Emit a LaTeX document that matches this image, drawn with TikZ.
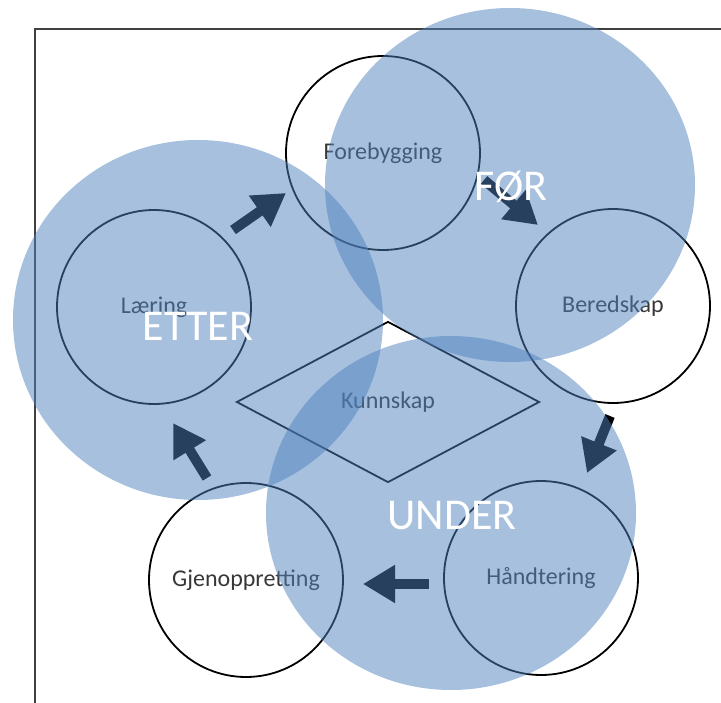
\documentclass[tikz,border=0pt]{standalone}
\usepackage{fontspec}
\setmainfont{Carlito}
\usetikzlibrary{shapes.geometric,arrows.meta}
\definecolor{ovblue}{RGB}{79,129,189}
\definecolor{labgray}{RGB}{55,55,55}
\tikzset{
  stagecirc/.style={circle, draw=black, line width=1.8pt, minimum size=194pt, inner sep=0pt,
    text=labgray, font=\fontsize{24}{24}\selectfont},
  phase/.style={ellipse, fill=ovblue, fill opacity=0.5, inner sep=0pt},
  phaselabel/.style={text=white, font=\fontsize{44}{44}\selectfont},
  flowarrow/.style={draw=black, line width=10pt,
    -{Triangle[width=36pt,length=32pt]}},
}
\begin{document}
\begin{tikzpicture}[x=1pt,y=-1pt]
\useasboundingbox (0,0) rectangle (721,703);
% frame
\draw[line width=2pt, draw=black!75] (35,703) -- (35,29) -- (721,29);
% stages
\node[stagecirc] (fore) at (383,153) {Forebygging};
\node[stagecirc] (bere) at (613,306) {Beredskap};
\node[stagecirc] (laer) at (154,307) {Læring};
\node[stagecirc] (hand) at (541,578) {Håndtering};
\node[stagecirc] (gjen) at (246,580) {Gjenoppretting};
\node[diamond, draw=black, line width=1.8pt, minimum width=303pt, minimum height=161pt,
  inner sep=0pt, text=labgray, font=\fontsize{24}{24}\selectfont] (kunn) at (388,402) {Kunnskap};
% arrows
\coordinate (a1s) at (233,230); \coordinate (a1e) at (286,193);
\coordinate (a2s) at (484,180); \coordinate (a2e) at (538,225);
\coordinate (a3s) at (610,416); \coordinate (a3e) at (587,473);
\coordinate (a4s) at (429,584); \coordinate (a4e) at (363,584);
\coordinate (a5s) at (207,478); \coordinate (a5e) at (173,423);
\draw[flowarrow] (a1s) -- (a1e);
\draw[flowarrow] (a2s) -- (a2e);
\draw[flowarrow] (a3s) -- (a3e);
\draw[flowarrow] (a4s) -- (a4e);
\draw[flowarrow] (a5s) -- (a5e);
% phase overlays
\node[phase, minimum width=370pt, minimum height=354pt] (for) at (510,185) {};
\node[phase, minimum width=370pt, minimum height=360pt] (etter) at (198,320) {};
\node[phase, minimum width=370pt, minimum height=354pt] (under) at (451,513) {};
\node[phaselabel] at (511,187) {FØR};
\node[phaselabel] at (198,326) {ETTER};
\node[phaselabel] at (452,516) {UNDER};
\end{tikzpicture}
\end{document}
